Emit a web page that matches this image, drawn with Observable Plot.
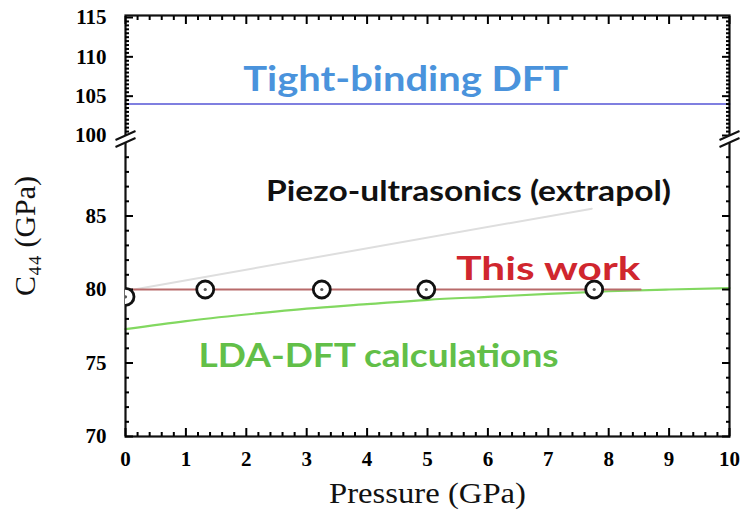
<!DOCTYPE html>
<html>
<head>
<meta charset="utf-8">
<script src="https://cdn.jsdelivr.net/npm/d3@7"></script>
<script src="https://cdn.jsdelivr.net/npm/@observablehq/plot@0.6"></script>
<style>
  html, body { margin: 0; padding: 0; background: #fff; }
  #chart svg { display: block; }
</style>
</head>
<body>
<div id="chart"></div>
<script>
// ---- data ----
const pressureTicks = [0, 1, 2, 3, 4, 5, 6, 7, 8, 9, 10];
const c44Ticks = [70, 75, 80, 85, 100, 105, 110, 115];
const c44MinorLow = [71,72,73,74,76,77,78,79,81,82,83,84,86,87,88,89];
const c44MinorHigh = [100.5,101,101.5,102,102.5,103,103.5,104,104.5,105.5,106,106.5,107,107.5,108,108.5,109,109.5,110.5,111,111.5,112,112.5,113,113.5,114,114.5];
const pressureMinor = [0.2,0.4,0.6,0.8,1.2,1.4,1.6,1.8,2.2,2.4,2.6,2.8,3.2,3.4,3.6,3.8,4.2,4.4,4.6,4.8,5.2,5.4,5.6,5.8,6.2,6.4,6.6,6.8,7.2,7.4,7.6,7.8,8.2,8.4,8.6,8.8,9.2,9.4,9.6,9.8];

// This work (measured points)
const thisWorkP = [0, 1.32, 3.25, 4.98, 7.76];
const thisWorkC = [79.5, 80.0, 80.0, 80.0, 80.0];
// This work fit line
const thisWorkLineP = [0, 8.53];
const thisWorkLineC = [80.0, 80.0];
// LDA-DFT calculations
const ldaP = [0, 1, 2, 3, 4, 5, 6, 7, 8, 9, 10];
const ldaC = [77.3, 77.85, 78.3, 78.7, 79.0, 79.3, 79.5, 79.7, 79.88, 80.0, 80.1];
// Piezo-ultrasonics (extrapolated)
const piezoP = [0, 7.72];
const piezoC = [79.9, 85.5];
// Tight-binding DFT
const tbP = [0, 10];
const tbC = [104.0, 104.0];
// axis break location
const breakMarks = [{p: 0, c: 95}, {p: 10, c: 95}];

// annotation texts and their anchor (baseline centre) in data units
const labelText = ["Tight-binding DFT", "Piezo-ultrasonics (extrapol)", "This work", "LDA-DFT calculations"];
const labelP = [4.64, 5.68, 7.0, 4.19];
const labelC = [105.6, 86.0, 80.68, 74.76];

// styling of the annotations
const labelStyle = {
  "Tight-binding DFT": {color: "#4a93dc", size: 34, length: 325},
  "Piezo-ultrasonics (extrapol)": {color: "#111111", size: 29, length: 405},
  "This work": {color: "#d0262e", size: 32, length: 184},
  "LDA-DFT calculations": {color: "#62bf48", size: 32, length: 360}
};
const titleStyle = {"Pressure (GPa)": {length: 197}};

const labels = labelText.map((t, i) => ({text: t, p: labelP[i], c: labelC[i]}));
const toRows = (xs, ys) => xs.map((x, i) => ({p: x, c: ys[i]}));

// custom symbols for the axis break
const breakClear = {
  draw(ctx) {
    ctx.moveTo(-10, 1); ctx.lineTo(10, -8); ctx.lineTo(10, -1); ctx.lineTo(-10, 8); ctx.closePath();
  }
};
const breakLines = {
  draw(ctx) {
    ctx.moveTo(-10, 1); ctx.lineTo(10, -8);
    ctx.moveTo(-10, 8); ctx.lineTo(10, -1);
  }
};

const serif = "'Liberation Serif', 'Times New Roman', serif";
const sans = "Lato, 'Open Sans', sans-serif";

const chart = Plot.plot({
  width: 743,
  height: 524,
  marginLeft: 125,
  marginRight: 14,
  marginTop: 15,
  marginBottom: 88,
  x: {domain: [0, 10]},
  y: {type: "linear", domain: [70, 90, 100, 115], range: [436, 142, 135, 17]},
  style: {background: "#fff"},
  marks: [
    // lines
    Plot.line(toRows(tbP, tbC), {x: "p", y: "c", stroke: "#7f7fe0", strokeWidth: 2}),
    Plot.line(toRows(piezoP, piezoC), {x: "p", y: "c", stroke: "#dedede", strokeWidth: 2}),
    Plot.line(toRows(ldaP, ldaC), {x: "p", y: "c", stroke: "#82d860", strokeWidth: 2.2, curve: "monotone-x"}),
    Plot.line(toRows(thisWorkLineP, thisWorkLineC), {x: "p", y: "c", stroke: "#b86a6a", strokeWidth: 1.8}),
    // frame and axes
    Plot.frame({stroke: "#111", strokeWidth: 2.2}),
    Plot.axisX(pressureTicks, {anchor: "bottom", tickSize: 0, tickPadding: 15, fontSize: 21, fontWeight: "bold", fontFamily: serif, label: null}),
    Plot.axisX(pressureTicks, {anchor: "bottom", tickSize: -8, fill: "none", strokeWidth: 2, label: null}),
    Plot.axisX(pressureMinor, {anchor: "bottom", tickSize: -4, fill: "none", strokeWidth: 2, label: null}),
    Plot.axisX(pressureTicks, {anchor: "top", tickSize: -8, fill: "none", strokeWidth: 2, label: null}),
    Plot.axisX(pressureMinor, {anchor: "top", tickSize: -4, fill: "none", strokeWidth: 2, label: null}),
    Plot.axisY(c44Ticks, {anchor: "left", tickSize: 0, tickPadding: 19, fontSize: 21, fontWeight: "bold", fontFamily: serif, label: null}),
    Plot.axisY(c44Ticks, {anchor: "left", tickSize: -8, fill: "none", strokeWidth: 2, label: null}),
    Plot.axisY(c44MinorLow.concat(c44MinorHigh), {anchor: "left", tickSize: -4, fill: "none", strokeWidth: 2, label: null}),
    Plot.axisY(c44Ticks, {anchor: "right", tickSize: -8, fill: "none", strokeWidth: 2, label: null}),
    Plot.axisY(c44MinorLow.concat(c44MinorHigh), {anchor: "right", tickSize: -4, fill: "none", strokeWidth: 2, label: null}),
    // axis break
    Plot.dot(breakMarks, {x: "p", y: "c", symbol: breakClear, r: 5, fill: "white", stroke: "none"}),
    Plot.dot(breakMarks, {x: "p", y: "c", symbol: breakLines, r: 5, fill: "none", stroke: "#111", strokeWidth: 2}),
    // measured points
    Plot.dot(toRows(thisWorkP, thisWorkC), {x: "p", y: "c", r: 8.5, fill: "white", stroke: "#111", strokeWidth: 2.8, clip: true}),
    Plot.dot(toRows(thisWorkP, thisWorkC), {x: "p", y: "c", r: 1.6, fill: "#555", clip: true}),
    // annotations
    Plot.text(labels, {
      x: "p", y: "c", text: "text", lineAnchor: "bottom",
      fill: d => labelStyle[d.text].color,
      fontSize: d => labelStyle[d.text].size,
      fontWeight: "bold", fontFamily: sans
    }),
    // axis titles
    Plot.text(["Pressure (GPa)"], {frameAnchor: "bottom", dy: 66, fontSize: 29, fontFamily: serif, fill: "#111"}),
    Plot.text(["C\u2084\u2084 (GPa)"], {frameAnchor: "left", textAnchor: "middle", lineAnchor: "middle", rotate: -90, dx: -100, dy: 10, fontSize: 30, fontFamily: serif, fill: "#111"})
  ]
});

// stretch annotation texts horizontally to the widths seen in the reference
d3.select(chart).selectAll("text").each(function () {
  const t = this.textContent;
  const s = labelStyle[t] || titleStyle[t];
  if (s && s.length) {
    this.setAttribute("textLength", s.length);
    this.setAttribute("lengthAdjust", "spacingAndGlyphs");
  }
});
document.getElementById("chart").appendChild(chart);
</script>
</body>
</html>
